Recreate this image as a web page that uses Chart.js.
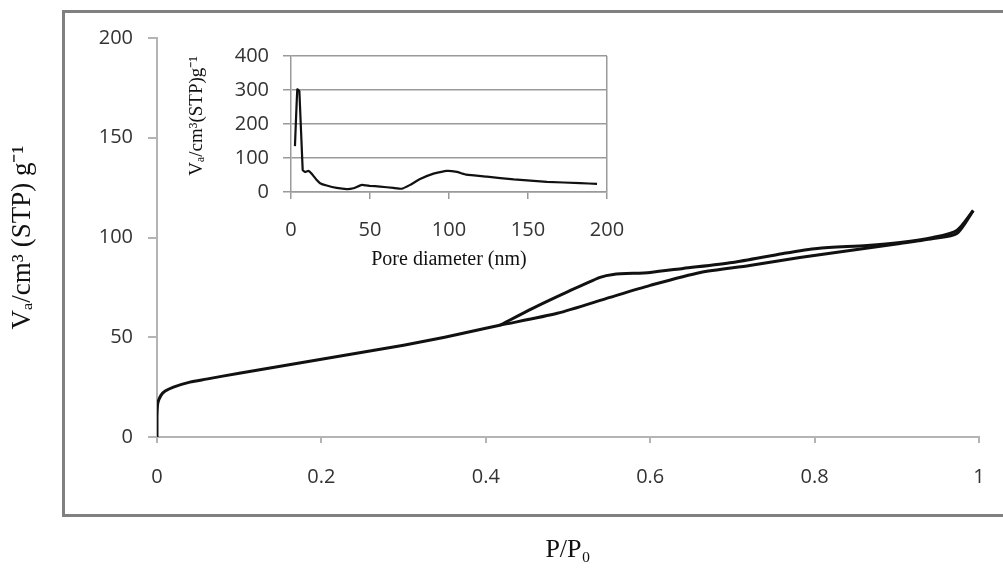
<!DOCTYPE html>
<html>
<head>
<meta charset="utf-8">
<script src="https://cdn.jsdelivr.net/npm/chart.js@4/dist/chart.umd.min.js"></script>
<style>
  body { margin: 0; background: #fff; }
  #wrap { position: relative; width: 1003px; height: 568px; overflow: hidden; }
  #frame { position: absolute; left: 62px; top: 10px; width: 960px; height: 501px; border: 3px solid #808080; }
  #mainChart { position: absolute; left: 0; top: 0; }
  #insetChart { position: absolute; left: 180px; top: 30px; }
</style>
</head>
<body>
<div id="wrap">
  <div id="frame"></div>
  <canvas id="mainChart" width="1003" height="568"></canvas>
  <canvas id="insetChart" width="450" height="250"></canvas>
</div>
<script>
// isotherm - adsorption branch (P/P0, volume)
const adsP = [0, 0, 0.001, 0.005, 0.01, 0.02, 0.04, 0.06, 0.1, 0.15, 0.2, 0.25, 0.3, 0.35, 0.4, 0.417, 0.487, 0.551, 0.6, 0.661, 0.721, 0.782, 0.843, 0.904, 0.944, 0.973, 0.993];
const adsV = [0, 10, 17, 21, 23, 25, 27.5, 29, 32, 35.5, 39, 42.5, 46, 50, 54.5, 56, 62, 70, 76, 82.5, 86, 90, 93.5, 97, 99.5, 102, 113.5];

// desorption branch
const desP = [0.417, 0.457, 0.498, 0.539, 0.555, 0.6, 0.64, 0.7, 0.762, 0.803, 0.864, 0.904, 0.944, 0.973, 0.993];
const desV = [56, 64.5, 72.5, 80, 81.5, 82.5, 84.5, 87.5, 92, 94.5, 96, 97.5, 100, 103.5, 113.5];

// pore size distribution (inset)
const poreD = [2.5, 4.0, 5.3, 7.4, 8.9, 11, 13.1, 16.3, 18.4, 22.6, 28.9, 35.3, 39.5, 44.8, 50, 56.4, 64.8, 70, 75.4, 81.7, 90.2, 98.6, 105, 111, 124, 141, 162, 183, 193.7];
const poreV = [135, 302, 297, 64, 59, 62, 54, 35, 26, 19, 12, 8.6, 11, 21, 18, 16, 12, 9.5, 21, 38, 54, 62, 59, 51, 45, 37, 30, 26, 24];

const mainXTicks = [0, 0.2, 0.4, 0.6, 0.8, 1];
const mainYTicks = [0, 50, 100, 150, 200];
const insetXTicks = [0, 50, 100, 150, 200];
const insetYTicks = [0, 100, 200, 300, 400];

const axisGray = "#b4b4b4";
const tickFont = { family: "'Open Sans', sans-serif", size: 20 };
const titleFamily = "'Liberation Serif', 'Times New Roman', serif";

function toPoints(xs, ys) {
    return xs.map((x, i) => ({ x: x, y: ys[i] }));
}

function lineSet(xs, ys, width, tension) {
    return {
        data: toPoints(xs, ys),
        showLine: true,
        borderColor: "#111",
        borderWidth: width,
        pointRadius: 0,
        tension: tension,
        fill: false
    };
}

// keep label overhang from shrinking the plot area
function fixHeight(h) {
    return s => { s.height = h; s.paddingLeft = 0; s.paddingRight = 0; };
}

// ✅ Main isotherm chart
new Chart(document.getElementById("mainChart"), {
    type: "scatter",
    data: {
        datasets: [lineSet(adsP, adsV, 3, 0.25), lineSet(desP, desV, 3, 0.25)]
    },
    options: {
        responsive: false,
        animation: false,
        layout: { padding: { left: 0, right: 24, top: 38, bottom: 0 } },
        plugins: { legend: { display: false }, tooltip: { enabled: false } },
        scales: {
            x: {
                type: "linear", min: 0, max: 1,
                afterBuildTicks: s => { s.ticks = mainXTicks.map(v => ({ value: v })); },
                afterFit: fixHeight(131),
                grid: { drawOnChartArea: false, color: axisGray, tickLength: 6, lineWidth: 2 },
                border: { color: axisGray, width: 2 },
                ticks: { color: "#333", font: tickFont, padding: 22, callback: v => String(+v.toFixed(1)) },
                title: {
                    display: true, text: "P/P₀", color: "#111",
                    font: { family: titleFamily, size: 26 }, padding: { top: 0, bottom: 2 }
                }
            },
            y: {
                type: "linear", min: 0, max: 200,
                afterBuildTicks: s => { s.ticks = mainYTicks.map(v => ({ value: v })); },
                afterFit: s => { s.width = 157; },
                grid: { drawOnChartArea: false, color: axisGray, tickLength: 9, lineWidth: 2 },
                border: { color: axisGray, width: 2 },
                ticks: { color: "#333", font: tickFont, padding: 15 },
                title: {
                    display: true, text: "Vₐ/cm³ (STP) g⁻¹", color: "#111",
                    font: { family: titleFamily, size: 27 }, padding: { top: 7, bottom: 0 }
                }
            }
        }
    }
});

// ✅ Inset pore size distribution
new Chart(document.getElementById("insetChart"), {
    type: "scatter",
    data: {
        datasets: [lineSet(poreD, poreV, 2.2, 0.1)]
    },
    options: {
        responsive: false,
        animation: false,
        layout: { padding: { left: 0, right: 23, top: 23, bottom: 0 } },
        plugins: { legend: { display: false }, tooltip: { enabled: false } },
        scales: {
            x: {
                type: "linear", min: 0, max: 200,
                afterBuildTicks: s => { s.ticks = insetXTicks.map(v => ({ value: v })); },
                afterFit: fixHeight(88),
                grid: {
                    color: ctx => (ctx.tick && ctx.tick.value === 200) ? "#9a9a9a" : "rgba(0,0,0,0)",
                    tickColor: "#9a9a9a", tickLength: 7, lineWidth: 1.5
                },
                border: { color: "#9a9a9a", width: 1.5 },
                ticks: { color: "#333", font: tickFont, padding: 19 },
                title: {
                    display: true, text: "Pore diameter (nm)", color: "#111",
                    font: { family: titleFamily, size: 20 }, padding: { top: 0, bottom: 8 }
                }
            },
            y: {
                type: "linear", min: 0, max: 400,
                afterBuildTicks: s => { s.ticks = insetYTicks.map(v => ({ value: v })); },
                afterFit: s => { s.width = 111; },
                grid: { color: "#9a9a9a", tickLength: 8, lineWidth: 1.5 },
                border: { color: "#9a9a9a", width: 1.5 },
                ticks: { color: "#333", font: tickFont, padding: 14 },
                title: {
                    display: true, text: "Vₐ/cm³(STP)g⁻¹", color: "#111", align: "end",
                    font: { family: titleFamily, size: 19 }, padding: { top: 6, bottom: 0 }
                }
            }
        }
    }
});
</script>
</body>
</html>
